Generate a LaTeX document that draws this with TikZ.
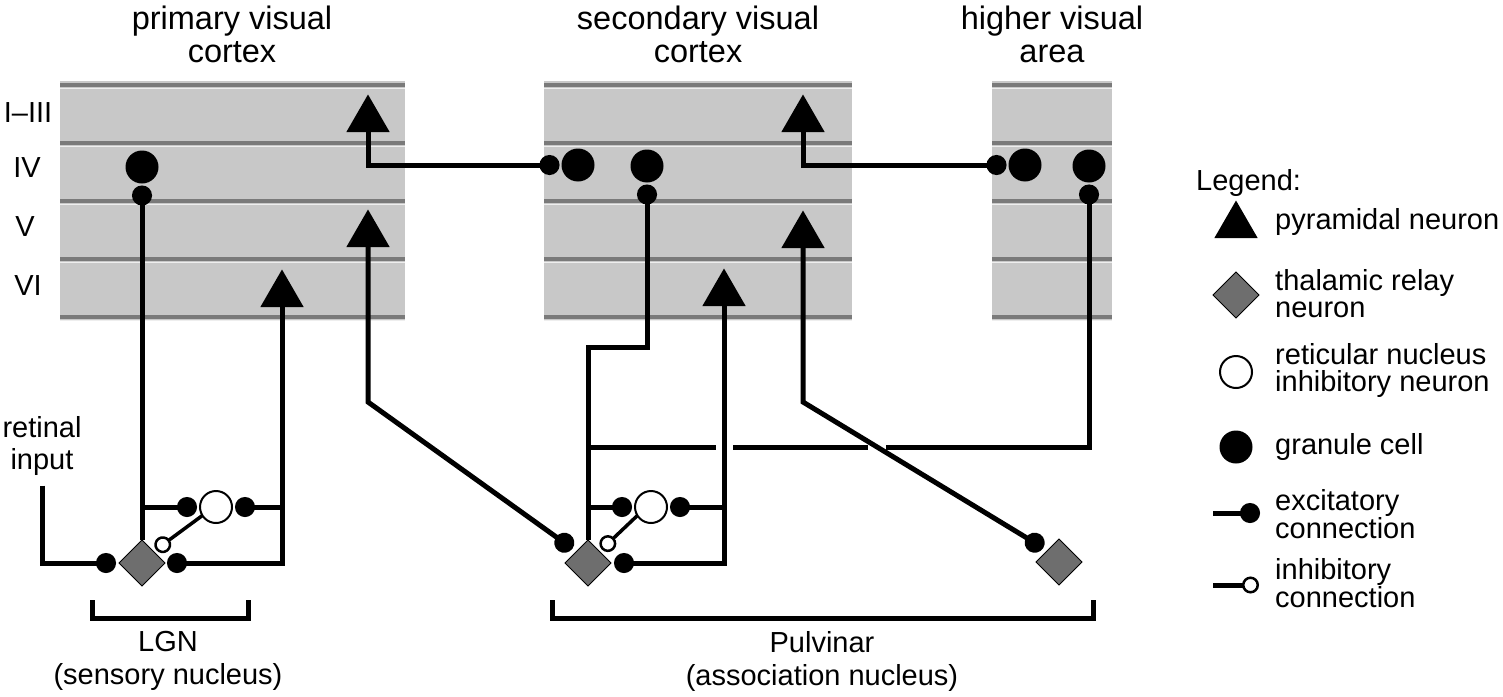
\documentclass[tikz,border=0pt]{standalone}
\usepackage{fontspec}
\setmainfont{Liberation Sans}
\usetikzlibrary{calc,positioning,shapes.geometric,arrows.meta}
\definecolor{layer}{RGB}{200,200,200}
\definecolor{layerline}{RGB}{122,122,122}
\definecolor{relaygray}{RGB}{110,110,110}

\begin{document}
\begin{tikzpicture}[x=1pt,y=-1pt,
  lbl/.style={font=\fontsize{29pt}{30pt}\selectfont,inner sep=0pt,align=center},
  title/.style={lbl,font=\fontsize{32.5pt}{33pt}\selectfont},
  pyr/.style={regular polygon,regular polygon sides=3,fill=black,minimum size=50pt,inner sep=0pt,outer sep=0pt,anchor=side 2},
  gran/.style={circle,fill=black,minimum size=33pt,inner sep=0pt,outer sep=0pt},
  inhib/.style={circle,draw=black,line width=2pt,fill=white,minimum size=32pt,inner sep=0pt,outer sep=0pt},
  relay/.style={diamond,aspect=1,draw=black,line width=0.8pt,fill=relaygray,minimum size=46pt,inner sep=0pt,outer sep=0pt},
  exc/.style={line width=5pt,-{Circle[length=20pt]},shorten >=2pt},
  inh/.style={line width=3.5pt,-{Circle[open,fill=white,length=17pt,line width=2.5pt]},shorten >=3pt},
  brk/.style={line width=5pt}]
\useasboundingbox (0,0) rectangle (1503,696);

% cortical areas with their layers
\foreach \l/\r in {60/405,544/852,992/1112}{
  \fill[layer] (\l,81) rectangle (\r,320);
  \foreach \y in {85,143,201,259,317}{
    \draw[layerline,line width=4pt] (\l,\y) -- (\r,\y);
    \draw[white!70!layer,line width=1.5pt] (\l,\y+3.5) -- (\r,\y+3.5);
  }
}
\node[title] (t1) at (232,34) {primary visual\\cortex};
\node[title] (t2) at (698,34) {secondary visual\\cortex};
\node[title] (t3) at (1052,34) {higher visual\\area};
\node[lbl] (lay1) at (28,113) {I--III};
\node[lbl] (lay2) at (27,168) {IV};
\node[lbl] (lay3) at (25,227) {V};
\node[lbl] (lay4) at (28,286) {VI};

% neurons
\node[pyr] (p1a) at (368,132) {};
\node[pyr] (p1b) at (368,247) {};
\node[pyr] (p1c) at (282,307) {};
\node[pyr] (p2a) at (803,132) {};
\node[pyr] (p2b) at (803,248) {};
\node[pyr] (p2c) at (724,306) {};
\node[gran] (g1) at (142,167) {};
\node[gran] (g2a) at (578,165) {};
\node[gran] (g2b) at (647,166) {};
\node[gran] (g3a) at (1025,165) {};
\node[gran] (g3b) at (1089,166) {};
\node[relay] (r1) at (142,563) {};
\node[relay] (r2) at (588,563) {};
\node[relay] (r3) at (1059,562) {};
\node[inhib] (i1) at (216,507) {};
\node[inhib] (i2) at (651,507) {};
\coordinate (k1) at (368,402);
\coordinate (k2) at (803,402);
\coordinate (h1) at (588,447);

% LGN loop
\node[lbl,font=\fontsize{29pt}{32pt}\selectfont] (ret) at (42,446) {retinal\\input};
\draw[exc,shorten >=3pt] (ret.south) ++(0,10) |- (r1.west);
\draw[exc] (r1.north) -- (g1.south);
\draw[exc] (p1c.side 2) |- (r1.east);
\draw[exc,shorten >=3pt] (r1.north |- i1.west) -- (i1.west);
\draw[exc,shorten >=3pt] (p1c.side 2 |- i1.east) -- (i1.east);
\draw[inh,shorten >=3pt] (i1.212) -- (r1.north east);

% pulvinar loop
\draw[exc] (p1a.side 2) |- (g2a.west);
\draw[exc,shorten >=5pt] (p1b.side 2) -- (k1) -- (r2.north west);
\draw[exc] (p2a.side 2) |- (g3a.west);
\draw[exc] (r2.north) -- ++(0,-193) -| (g2b.south);
\draw[exc] (h1) -| (g3b.south);
% gaps where lines cross
\draw[white,line width=7pt] ($(p2c.side 2 |- h1)+(-8.5,0)$) -- ($(p2c.side 2 |- h1)+(8.5,0)$);
\draw[white,line width=7pt] ($(k2)!0.302!(r3.north west)+(-9,0)$) -- ($(k2)!0.302!(r3.north west)+(9,0)$);
\draw[exc,shorten >=5pt] (p2b.side 2) -- (k2) -- (r3.north west);
\draw[exc,shorten >=3pt] (p2c.side 2) |- (r2.east);
\draw[exc,shorten >=3pt] (r2.north |- i2.west) -- (i2.west);
\draw[exc,shorten >=3pt] (p2c.side 2 |- i2.east) -- (i2.east);
\draw[inh,shorten >=3pt] (i2.212) -- (r2.north east);

% brackets
\draw[brk] (92,600) |- (248,618) -- (248,600);
\draw[brk] (552,600) |- (1093,618) -- (1093,600);
\node[lbl,font=\fontsize{29pt}{33pt}\selectfont] (lgn) at (168,661) {LGN\\(sensory nucleus)};
\node[lbl,font=\fontsize{29pt}{33pt}\selectfont] (pul) at (822,661) {Pulvinar\\(association nucleus)};

% legend
\node[lbl,anchor=west] (leg) at (1196,183) {Legend:};
\node[pyr] (lp) at (1236,238) {};
\node[relay] (lr) at (1236,295) {};
\node[inhib] (li) at (1236,372) {};
\node[gran] (lg) at (1236,447) {};
\coordinate (le) at (1213,513);
\coordinate (lh) at (1213,585);
\draw[exc,shorten >=0pt] (le) -- ++(47,0);
\draw[inh,line width=5pt,shorten >=0pt] (lh) -- ++(46,0);
\node[lbl,anchor=west] (lpt) at (1275,222) {pyramidal neuron};
\node[lbl,anchor=west,align=left,font=\fontsize{29pt}{27pt}\selectfont] (lrt) at (1275,294) {thalamic relay\\neuron};
\node[lbl,anchor=west,align=left,font=\fontsize{29pt}{27pt}\selectfont] (lit) at (1275,370) {reticular nucleus\\inhibitory neuron};
\node[lbl,anchor=west] (lgt) at (1275,447) {granule cell};
\node[lbl,anchor=west,align=left,font=\fontsize{29pt}{24pt}\selectfont] (let) at (1275,514) {excitatory\\connection};
\node[lbl,anchor=west,align=left,font=\fontsize{29pt}{24pt}\selectfont] (lht) at (1275,583) {inhibitory\\connection};
\end{tikzpicture}
\end{document}
